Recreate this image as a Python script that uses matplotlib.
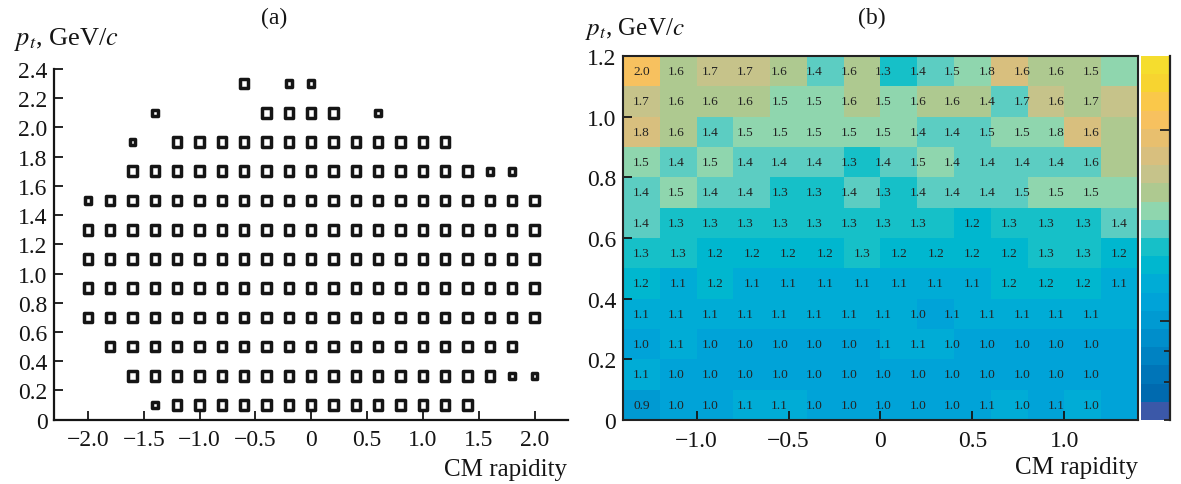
import numpy as np
import matplotlib
matplotlib.use("Agg")
import matplotlib.pyplot as plt
from matplotlib.path import Path
from matplotlib.markers import MarkerStyle
from matplotlib.colors import ListedColormap, BoundaryNorm

plt.rcParams["font.family"] = ["Liberation Serif", "DejaVu Serif"]
plt.rcParams["mathtext.fontset"] = "stix"

# ---------------- panel (a): occupied (y, pt) bins ----------------
rap_bins = [-2.0, -1.8, -1.6, -1.4, -1.2, -1.0, -0.8, -0.6, -0.4, -0.2, 0.0,
            0.2, 0.4, 0.6, 0.8, 1.0, 1.2, 1.4, 1.6, 1.8, 2.0]
pt_rows = [2.3, 2.1, 1.9, 1.7, 1.5, 1.3, 1.1, 0.9, 0.7, 0.5, 0.3, 0.1]
# '#' = filled bin, 'o' = sparsely filled bin (smaller box), '.' = empty
occupancy = [
    ".......#.oo..........",
    "...o....####.o.......",
    "..o.#############....",
    "..################oo.",
    "o####################",
    "#####################",
    "#####################",
    "#####################",
    "#####################",
    ".###################.",
    "..#################oo",
    "...o##############...",
]
a_xticks = [-2.0, -1.5, -1.0, -0.5, 0.0, 0.5, 1.0, 1.5, 2.0]
a_xlabels = ["\u22122.0", "\u22121.5", "\u22121.0", "\u22120.5", "0", "0.5", "1.0", "1.5", "2.0"]
a_yticks = [0, 0.2, 0.4, 0.6, 0.8, 1.0, 1.2, 1.4, 1.6, 1.8, 2.0, 2.2, 2.4]
a_ylabels = ["0", "0.2", "0.4", "0.6", "0.8", "1.0", "1.2", "1.4", "1.6", "1.8", "2.0", "2.2", "2.4"]

# ---------------- panel (b): ratio map ----------------
rap_edges = [-1.4, -1.2, -1.0, -0.8, -0.6, -0.4, -0.2, 0.0, 0.2, 0.4, 0.6, 0.8, 1.0, 1.2, 1.4]
pt_edges = [0.0, 0.1, 0.2, 0.3, 0.4, 0.5, 0.6, 0.7, 0.8, 0.9, 1.0, 1.1, 1.2]
# rows listed from top (pt 1.1-1.2) to bottom (pt 0-0.1)
ratio_rows = [
    [2.0, 1.6, 1.7, 1.7, 1.6, 1.4, 1.6, 1.3, 1.4, 1.5, 1.8, 1.6, 1.6, 1.5],
    [1.7, 1.6, 1.6, 1.6, 1.5, 1.5, 1.6, 1.5, 1.6, 1.6, 1.4, 1.7, 1.6, 1.7],
    [1.8, 1.6, 1.4, 1.5, 1.5, 1.5, 1.5, 1.5, 1.4, 1.4, 1.5, 1.5, 1.8, 1.6],
    [1.5, 1.4, 1.5, 1.4, 1.4, 1.4, 1.3, 1.4, 1.5, 1.4, 1.4, 1.4, 1.4, 1.6],
    [1.4, 1.5, 1.4, 1.4, 1.3, 1.3, 1.4, 1.3, 1.4, 1.4, 1.4, 1.5, 1.5, 1.5],
    [1.4, 1.3, 1.3, 1.3, 1.3, 1.3, 1.3, 1.3, 1.3, 1.2, 1.3, 1.3, 1.3, 1.4],
    [1.3, 1.3, 1.2, 1.2, 1.2, 1.2, 1.3, 1.2, 1.2, 1.2, 1.2, 1.3, 1.3, 1.2],
    [1.2, 1.1, 1.2, 1.1, 1.1, 1.1, 1.1, 1.1, 1.1, 1.1, 1.2, 1.2, 1.2, 1.1],
    [1.1, 1.1, 1.1, 1.1, 1.1, 1.1, 1.1, 1.1, 1.0, 1.1, 1.1, 1.1, 1.1, 1.1],
    [1.0, 1.1, 1.0, 1.0, 1.0, 1.0, 1.0, 1.1, 1.1, 1.0, 1.0, 1.0, 1.0, 1.0],
    [1.1, 1.0, 1.0, 1.0, 1.0, 1.0, 1.0, 1.0, 1.0, 1.0, 1.0, 1.0, 1.0, 1.0],
    [0.9, 1.0, 1.0, 1.1, 1.1, 1.0, 1.0, 1.0, 1.0, 1.0, 1.1, 1.0, 1.1, 1.0],
]
# how many leading numbers in each row are printed at the tighter spacing
packed_labels = [14, 14, 14, 14, 14, 9, 0, 0, 14, 14, 14, 14]
b_xticks = [-1.0, -0.5, 0.0, 0.5, 1.0]
b_xlabels = ["\u22121.0", "\u22120.5", "0", "0.5", "1.0"]
b_yticks = [0, 0.2, 0.4, 0.6, 0.8, 1.0, 1.2]
b_ylabels = ["0", "0.2", "0.4", "0.6", "0.8", "1.0", "1.2"]

palette = ["#3b58a8", "#006aaf", "#0075b8", "#0082c2", "#008ecb", "#009ad2",
           "#00a3d8", "#00acd6", "#00b7cf", "#16c0c8", "#5ccdc2", "#8fd6ae",
           "#aec990", "#c6c38a", "#d8bf7e", "#e8bf6e", "#f7c15f", "#fac84a",
           "#f7d430", "#f5dd2e"]
z_min, z_max = 0.42, 2.33

TICK_FS = 17
INK = "#151515"

fig = plt.figure(figsize=(11.81, 4.85), dpi=100)

# ---------- (a) ----------
ax = fig.add_axes([0.0461, 0.1326, 0.4349, 0.7231])
xs, ys, ss = [], [], []
for pt, row in zip(pt_rows, occupancy):
    for y, flag in zip(rap_bins, row):
        if flag == ".":
            continue
        xs.append(y)
        ys.append(pt)
        ss.append(48 if flag == "#" else 22)

box = Path([(-0.43, -0.5), (0.43, -0.5), (0.43, 0.5), (-0.43, 0.5), (-0.43, -0.5)], closed=True)
ax.scatter(xs, ys, s=ss, marker=MarkerStyle(box, joinstyle="miter"),
           facecolors="white", edgecolors=INK, linewidths=2.5, zorder=3)

ax.set_xlim(-2.3, 2.3)
ax.set_ylim(0, 2.4)
ax.set_xticks(a_xticks, a_xlabels)
ax.set_yticks(a_yticks, a_ylabels)
for side in ["top", "right"]:
    ax.spines[side].set_visible(False)
for side in ["left", "bottom"]:
    ax.spines[side].set_linewidth(1.6)
    ax.spines[side].set_color(INK)
ax.tick_params(direction="in", length=6.5, width=1.3, labelsize=TICK_FS,
               colors=INK, pad=5)
ax.tick_params(axis="x", pad=7)

# ---------- (b) ----------
bx = fig.add_axes([0.5275, 0.1320, 0.4361, 0.7505])
cmap = ListedColormap(palette)
norm = BoundaryNorm(np.linspace(z_min, z_max, len(palette) + 1), cmap.N)
ratio = np.array(ratio_rows)[::-1]
mesh = bx.pcolormesh(rap_edges, pt_edges, ratio, cmap=cmap, norm=norm)

centers_x = [(a + b) / 2 for a, b in zip(rap_edges[:-1], rap_edges[1:])]
centers_y = [(a + b) / 2 for a, b in zip(pt_edges[:-1], pt_edges[1:])][::-1]
step = 0.188
for r, (row, npk) in enumerate(zip(ratio_rows, packed_labels)):
    for c, v in enumerate(row):
        x = centers_x[0] + c * step if c < npk else centers_x[c]
        bx.text(x, centers_y[r], f"{v:.1f}", ha="center", va="center",
                fontsize=9.6, color="#222222")

bx.set_xlim(-1.4, 1.4)
bx.set_ylim(0, 1.2)
bx.set_xticks(b_xticks, b_xlabels)
bx.set_yticks(b_yticks, b_ylabels)
for sp in bx.spines.values():
    sp.set_linewidth(1.5)
    sp.set_color("#222222")
bx.tick_params(direction="in", length=6.5, width=1.3, labelsize=TICK_FS,
               colors=INK, pad=5)
bx.tick_params(axis="x", pad=7)

# colour scale
cax = fig.add_axes([0.9662, 0.1320, 0.0246, 0.7505])
cb = fig.colorbar(mesh, cax=cax)
cb.outline.set_visible(False)
cax.yaxis.set_ticks([0.94, 1.94])
cax.yaxis.set_ticks([0.62, 0.78, 0.42], minor=True)
cax.yaxis.set_ticklabels([])
cax.tick_params(axis="y", which="major", direction="in", length=7, width=1.3,
                color="#222222", right=True, labelright=False)
cax.tick_params(axis="y", which="minor", direction="in", length=4, width=1.3,
                color="#222222", right=True)
cax.plot([1, 1], [0, 1], transform=cax.transAxes, color="#222222", lw=1.6,
         clip_on=False)

# labels
fig.text(0.012, 0.918, r"$p_t$, GeV/$c$", fontsize=19, ha="left", va="center", color=INK)
fig.text(0.232, 0.962, "(a)", fontsize=17, ha="center", va="center", color=INK)
fig.text(0.480, 0.030, "CM rapidity", fontsize=18, ha="right", va="center", color=INK)

fig.text(0.495, 0.940, r"$p_t$, GeV/$c$", fontsize=18, ha="left", va="center", color=INK)
fig.text(0.738, 0.962, "(b)", fontsize=17, ha="center", va="center", color=INK)
fig.text(0.9636, 0.036, "CM rapidity", fontsize=18, ha="right", va="center", color=INK)

fig.savefig("out.png", dpi=100)
